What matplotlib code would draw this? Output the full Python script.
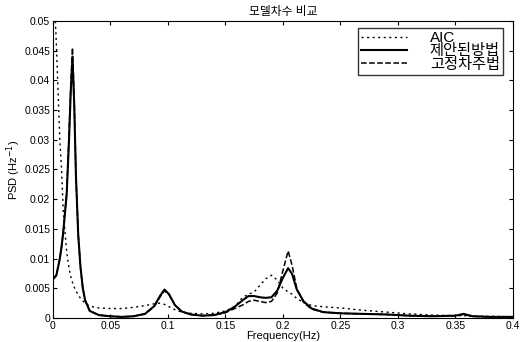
import matplotlib
matplotlib.use("Agg")
import matplotlib.pyplot as plt

plt.rcParams['font.family'] = ['Liberation Sans', 'Noto Sans CJK KR']

# frequency grid (Hz)
freq = [0, 0.003, 0.006, 0.0075, 0.009, 0.012, 0.014, 0.0155, 0.017, 0.0185,
        0.020, 0.022, 0.024, 0.026, 0.028, 0.032, 0.04, 0.05, 0.06, 0.07,
        0.08, 0.088, 0.093, 0.097, 0.101, 0.106, 0.112, 0.12, 0.13, 0.14,
        0.15, 0.158, 0.165, 0.17, 0.175, 0.18, 0.185, 0.19, 0.195, 0.2,
        0.2045, 0.208, 0.212, 0.218, 0.225, 0.235, 0.25, 0.27, 0.29, 0.31,
        0.33, 0.35, 0.357, 0.365, 0.38, 0.4]

psd_aic = [0.060, 0.046, 0.030, 0.025, 0.018, 0.011, 0.0084, 0.0070, 0.0060, 0.0052,
           0.0046, 0.0039, 0.0033, 0.0029, 0.0025, 0.0020, 0.0017, 0.0016, 0.0016, 0.0018,
           0.0021, 0.0024, 0.0025, 0.0023, 0.0019, 0.0014, 0.0010, 0.0008, 0.0007, 0.0008,
           0.0012, 0.0019, 0.0035, 0.0040, 0.0044, 0.0055, 0.0066, 0.0072, 0.0064, 0.0050,
           0.0044, 0.0040, 0.0033, 0.0026, 0.0021, 0.0019, 0.0017, 0.0013, 0.0010, 0.0007,
           0.0005, 0.0004, 0.0004, 0.0003, 0.0003, 0.0002]

psd_proposed = [0.0065, 0.0072, 0.0100, 0.0120, 0.0145, 0.021, 0.030, 0.038, 0.044, 0.036,
                0.024, 0.014, 0.0085, 0.0050, 0.0030, 0.0012, 0.0005, 0.0003, 0.0002, 0.0003,
                0.0007, 0.0020, 0.0037, 0.0048, 0.0040, 0.0022, 0.0011, 0.0006, 0.0004, 0.0005,
                0.0010, 0.0019, 0.0030, 0.0037, 0.0037, 0.0035, 0.0034, 0.0035, 0.0046, 0.0068,
                0.0084, 0.0074, 0.0048, 0.0028, 0.0016, 0.0010, 0.0008, 0.0007, 0.0006, 0.0004,
                0.0003, 0.0004, 0.0007, 0.0003, 0.0002, 0.0002]

psd_fixed = [0.0065, 0.0072, 0.0100, 0.0120, 0.0145, 0.021, 0.031, 0.039, 0.0455, 0.037,
             0.024, 0.014, 0.0085, 0.0050, 0.0030, 0.0012, 0.0005, 0.0003, 0.0002, 0.0003,
             0.0007, 0.0019, 0.0035, 0.0046, 0.0039, 0.0022, 0.0011, 0.0006, 0.0004, 0.0005,
             0.0009, 0.0016, 0.0022, 0.0028, 0.0030, 0.0028, 0.0026, 0.0028, 0.0042, 0.0080,
             0.0113, 0.0088, 0.0050, 0.0026, 0.0015, 0.0010, 0.0008, 0.0007, 0.0006, 0.0004,
             0.0003, 0.0004, 0.0006, 0.0003, 0.0002, 0.0002]

xticks = [0, 0.05, 0.1, 0.15, 0.2, 0.25, 0.3, 0.35, 0.4]
yticks = [0, 0.005, 0.01, 0.015, 0.02, 0.025, 0.03, 0.035, 0.04, 0.045, 0.05]

fig = plt.figure(figsize=(5.24, 3.42), dpi=100)
ax = fig.add_axes([0.101, 0.070, 0.878, 0.869])

ax.plot(freq, psd_aic, color='black', linestyle=(0, (1.5, 2.5)), linewidth=1.0, label='AIC')
ax.plot(freq, psd_proposed, color='black', linestyle='-', linewidth=1.5, label='제안된방법')
ax.plot(freq, psd_fixed, color='black', linestyle='--', linewidth=1.1, label='고정차주법')

ax.set_xlim(0, 0.4)
ax.set_ylim(0, 0.05)
ax.set_xticks(xticks)
ax.set_xticklabels([f'{t:g}' for t in xticks])
ax.set_yticks(yticks)
ax.set_yticklabels([f'{t:g}' for t in yticks])
ax.tick_params(direction='in', top=True, right=True, labelsize=7.5, length=3, pad=2)

ax.set_title('모델차수 비교', fontsize=8.5, pad=4)
ax.set_xlabel('Frequency(Hz)', fontsize=8, labelpad=0)
ax.set_ylabel('PSD (Hz$^{-1}$)', fontsize=8, labelpad=1)

leg = ax.legend(loc='upper right', fontsize=11, frameon=True, fancybox=False,
                edgecolor='black', handlelength=3.0, labelspacing=-0.05,
                borderpad=0.2, handletextpad=1.5, borderaxespad=0,
                bbox_to_anchor=(0.978, 0.976))
leg.get_frame().set_linewidth(1.0)

fig.savefig('out.png', dpi=100)
